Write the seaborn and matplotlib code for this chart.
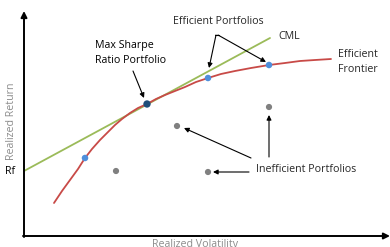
import numpy as np
import pandas as pd
import seaborn as sns
import matplotlib.pyplot as plt

sns.set_style("white")
plt.rcParams['font.family'] = ['Open Sans', 'DejaVu Sans']

# efficient frontier (volatility, return)
frontier_vol = [54, 62, 70, 78, 85, 92, 100, 108, 115, 122, 130, 138, 147, 156, 165,
                175, 185, 196, 208, 221, 235, 251, 269, 285, 300, 315, 331]
frontier_ret = [44, 56, 67, 78, 89, 98, 107, 115, 122, 128, 134, 139, 143, 148, 152,
                156, 160, 165, 169, 173, 176, 179, 182, 184, 186, 187, 188]

# capital market line
cml_vol = [24, 270]
cml_ret = [76, 209]

efficient_vol = [85, 208, 269]
efficient_ret = [89, 169, 182]

sharpe_vol = [147]
sharpe_ret = [143]

inefficient_vol = [269, 177, 116, 208]
inefficient_ret = [140, 121, 76, 75]

red = "#C84A47"
green = "#9BBB59"
blue = "#4F8FDB"
navy = "#1F4E79"
grey = "#808080"

fig = plt.figure(figsize=(3.9, 2.47), dpi=100)
ax = fig.add_axes([0, 0, 1, 1])

sns.lineplot(x=cml_vol, y=cml_ret, color=green, lw=1.3, ax=ax, sort=False)
sns.lineplot(x=frontier_vol, y=frontier_ret, color=red, lw=1.3, ax=ax, sort=False)
sns.scatterplot(x=efficient_vol, y=efficient_ret, color=blue, s=22, edgecolor="none", ax=ax, zorder=5)
sns.scatterplot(x=sharpe_vol, y=sharpe_ret, color=navy, s=28, edgecolor="none", ax=ax, zorder=5)
sns.scatterplot(x=inefficient_vol, y=inefficient_ret, color=grey, s=20, edgecolor="none", ax=ax, zorder=5)

ax.set_xlim(0, 390)
ax.set_ylim(0, 247)
ax.axis("off")

# axes with arrow heads
arr = dict(arrowstyle="-|>", color="black", lw=1.4, mutation_scale=9, shrinkA=0, shrinkB=0)
ax.annotate("", xy=(24, 236), xytext=(24, 10), arrowprops=arr)
ax.annotate("", xy=(390, 11), xytext=(23, 11), arrowprops=arr)

fs = 7.7
ax.text(12, 126, "Realized Return", rotation=90, ha="center", va="center", color="#8C8C8C", fontsize=fs)
ax.text(195, 3, "Realized Volatility", ha="center", va="center", color="#8C8C8C", fontsize=fs)
ax.text(10, 76, "Rf", ha="center", va="center", color="black", fontsize=fs)

ax.text(95, 194, "Max Sharpe\nRatio Portfolio", ha="left", va="center", color="black",
        fontsize=fs, linespacing=1.45)
ax.text(218, 225, "Efficient Portfolios", ha="center", va="center", fontsize=fs)
ax.text(278, 210, "CML", ha="left", va="center", fontsize=fs)
ax.text(338, 185, "Efficient\nFrontier", ha="left", va="center", fontsize=fs, linespacing=1.45)
ax.text(256, 77, "Inefficient Portfolios", ha="left", va="center", fontsize=fs)

thin = dict(arrowstyle="-|>", color="black", lw=0.8, mutation_scale=7, shrinkA=0, shrinkB=0)
ax.annotate("", xy=(144, 149), xytext=(133, 176), arrowprops=thin)
ax.annotate("", xy=(209, 179), xytext=(216, 212), arrowprops=thin)
ax.annotate("", xy=(266, 185), xytext=(218, 212), arrowprops=thin)
ax.plot([215, 219], [212, 212], color="black", lw=0.8)
ax.annotate("", xy=(184, 119), xytext=(251, 89), arrowprops=thin)
ax.annotate("", xy=(269, 132), xytext=(269, 90), arrowprops=thin)
ax.annotate("", xy=(213, 75), xytext=(249, 75), arrowprops=thin)

fig.savefig("out.png", dpi=100)
